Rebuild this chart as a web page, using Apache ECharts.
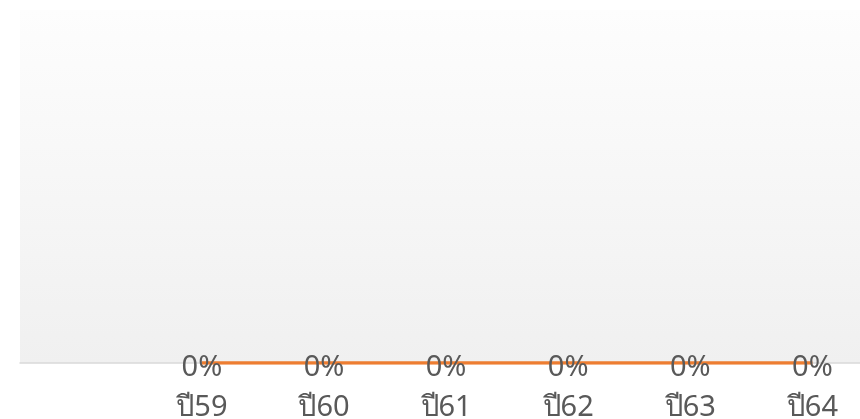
<!DOCTYPE html>
<html>
<head>
<meta charset="utf-8">
<script src="https://cdn.jsdelivr.net/npm/echarts@6/dist/echarts.min.js"></script>
<style>
html,body{margin:0;padding:0;background:#fff;}
#c{width:860px;height:419px;}
</style>
</head>
<body>
<div id="c"></div>
<script>
const categories = ['ปี59', 'ปี60', 'ปี61', 'ปี62', 'ปี63', 'ปี64'];
const values = [0, 0, 0, 0, 0, 0];
const percentLabels = ['0%', '0%', '0%', '0%', '0%', '0%'];

const chart = echarts.init(document.getElementById('c'));
const FONT = '"Noto Sans", "Open Sans", sans-serif';
chart.setOption({
  animation: false,
  grid: {
    left: 20, right: 0, top: 10, bottom: 56,
    outerBoundsMode: 'none',
    containLabel: false,
    show: true,
    borderWidth: 0,
    backgroundColor: new echarts.graphic.LinearGradient(0, 0, 0, 1, [
      { offset: 0, color: '#fdfdfd' },
      { offset: 1, color: '#f0f0f0' }
    ])
  },
  xAxis: {
    type: 'value',
    min: -1.49,
    max: 5.39,
    splitLine: { show: false },
    axisTick: { show: false },
    axisLine: { show: true, lineStyle: { color: '#d9d9d9', width: 1.5 } },
    axisLabel: {
      customValues: categories.map((_, i) => i),
      formatter: v => categories[Math.round(v)] || '',
      color: '#595959',
      fontSize: 29,
      fontFamily: FONT,
      margin: 30
    }
  },
  yAxis: {
    type: 'value',
    min: 0,
    max: 1,
    show: false
  },
  series: [{
    type: 'line',
    data: values.map((v, i) => [i, v]),
    symbol: 'circle',
    symbolSize: 0,
    showSymbol: true,
    lineStyle: { color: '#ED7D31', width: 3.5 },
    itemStyle: { color: '#ED7D31' },
    label: {
      show: true,
      position: 'inside',
      offset: [0, 5],
      formatter: p => percentLabels[p.dataIndex],
      color: '#595959',
      fontSize: 29,
      fontFamily: FONT
    }
  }]
});
</script>
</body>
</html>
